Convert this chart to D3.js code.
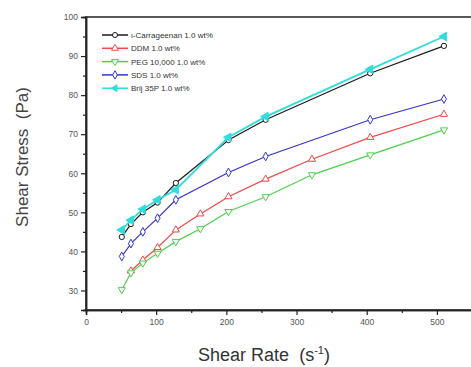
<!DOCTYPE html>
<html>
<head>
<meta charset="utf-8">
<script src="https://cdn.jsdelivr.net/npm/d3@7"></script>
<style>
body { margin: 0; background: #fff; }
svg text { font-family: "Liberation Sans", Arial, sans-serif; }
</style>
</head>
<body>
<script>
var w = 471, h = 367;

// shear rate points (s^-1)
var rateA = [51, 64, 81, 102, 128, 203, 256, 405, 510];
var rateB = [64, 81, 102, 128, 163, 203, 256, 322, 405, 510];
var rateC = [51, 64, 81, 102, 128, 163, 203, 256, 322, 405, 510];

var carrageenan = [43.7, 47, 50, 52.5, 57.5, 68.5, 73.7, 85.6, 92.6];
var ddm = [35, 37.8, 41, 45.5, 49.6, 54, 58.5, 63.6, 69.2, 75.1];
var peg = [30.2, 34.5, 37, 39.5, 42.5, 45.8, 50.2, 54, 59.6, 64.7, 71.1];
var sds = [38.7, 42, 45, 48.5, 53.2, 60.2, 64.3, 73.7, 79];
var brij = [45.5, 48, 50.8, 53.2, 55.8, 69.2, 74.5, 86.6, 95];

var seriesNames = ["\u03b9-Carrageenan 1.0 wt%", "DDM 1.0 wt%", "PEG 10,000 1.0 wt%", "SDS 1.0 wt%", "Brij 35P 1.0 wt%"];
var xTicks = [0, 100, 200, 300, 400, 500];
var yTicks = [30, 40, 50, 60, 70, 80, 90, 100];

var series = [
    {name: seriesNames[0], x: rateA, y: carrageenan, color: "#1a1a1a", symbol: d3.symbolCircle, fill: "none", rot: 0},
    {name: seriesNames[1], x: rateB, y: ddm, color: "#ee4848", symbol: d3.symbolTriangle, fill: "none", rot: 0},
    {name: seriesNames[2], x: rateC, y: peg, color: "#4cd04c", symbol: d3.symbolTriangle, fill: "none", rot: 180},
    {name: seriesNames[3], x: rateA, y: sds, color: "#3434c8", symbol: d3.symbolDiamond, fill: "none", rot: 0},
    {name: seriesNames[4], x: rateA, y: brij, color: "#30dcdc", symbol: d3.symbolTriangle, fill: "#30dcdc", rot: -90}
];

var xScale = d3.scaleLinear().domain([0, 550]).range([86, 472]);
var yScale = d3.scaleLinear().domain([25, 100]).range([310, 17]);

var svg = d3.select('body').append('svg')
    .attr('width', w)
    .attr('height', h);

// frame
svg.append('rect')
    .attr('x', xScale(0))
    .attr('y', yScale(100))
    .attr('width', xScale(550) - xScale(0))
    .attr('height', yScale(25) - yScale(100))
    .attr('fill', 'none')
    .attr('stroke', '#222')
    .attr('stroke-width', 1.5);

// minor ticks
var xAxisMinor = d3.axisBottom(xScale).tickValues(d3.range(50, 550, 100)).tickSize(3).tickFormat('');
var yAxisMinor = d3.axisLeft(yScale).tickValues(d3.range(25, 100, 10)).tickSize(3).tickFormat('');

svg.append('g').attr('transform', 'translate(0,' + yScale(25) + ')').call(xAxisMinor);
svg.append('g').attr('transform', 'translate(' + xScale(0) + ',0)').call(yAxisMinor);

// major ticks
var xAxis = d3.axisBottom(xScale).tickValues(xTicks).tickSize(5).tickPadding(4);
var yAxis = d3.axisLeft(yScale).tickValues(yTicks).tickSize(5).tickPadding(3);

svg.append('g').attr('class', 'axis').attr('transform', 'translate(0,' + yScale(25) + ')').call(xAxis);
svg.append('g').attr('class', 'axis').attr('transform', 'translate(' + xScale(0) + ',0)').call(yAxis);

svg.selectAll('.domain').attr('stroke', '#222').attr('stroke-width', 1.5);
svg.selectAll('.tick line').attr('stroke', '#222').attr('stroke-width', 1.2);
svg.selectAll('.axis text').attr('font-size', 8.5).attr('fill', '#555');

// axis titles
svg.append('text')
    .attr('x', 264)
    .attr('y', 361)
    .attr('text-anchor', 'middle')
    .attr('font-size', 18)
    .attr('fill', '#333')
    .html('Shear Rate&#160;&#160;(s<tspan dy="-7" font-size="11">-1</tspan><tspan dy="7">)</tspan>');

svg.append('text')
    .attr('transform', 'translate(28,157) rotate(-90)')
    .attr('text-anchor', 'middle')
    .attr('font-size', 17)
    .attr('fill', '#444')
    .text('Shear Stress  (Pa)')
    .style('white-space', 'pre');

// lines and markers
var line = d3.line()
    .x(function (d) { return xScale(d[0]); })
    .y(function (d) { return yScale(d[1]); });

series.forEach(function (s) {
    var pts = s.x.map(function (x, i) { return [x, s.y[i]]; });
    svg.append('path')
        .datum(pts)
        .attr('d', line)
        .attr('fill', 'none')
        .attr('stroke', s.color)
        .attr('stroke-width', s.fill === 'none' ? 1.2 : 1.8);

    svg.selectAll(null)
        .data(pts)
        .enter()
        .append('path')
        .attr('d', d3.symbol().type(s.symbol).size(s.fill === 'none' ? 22 : 32))
        .attr('transform', function (d) {
            return 'translate(' + xScale(d[0]) + ',' + yScale(d[1]) + ') rotate(' + s.rot + ')';
        })
        .attr('fill', s.fill === 'none' ? '#fff' : s.fill)
        .attr('stroke', s.color)
        .attr('stroke-width', 1);
});

// legend
var legend = svg.append('g');
series.forEach(function (s, i) {
    var y = 35 + i * 13.3;
    legend.append('line')
        .attr('x1', 102).attr('x2', 128)
        .attr('y1', y).attr('y2', y)
        .attr('stroke', s.color)
        .attr('stroke-width', 1.5);
    legend.append('path')
        .attr('d', d3.symbol().type(s.symbol).size(20))
        .attr('transform', 'translate(115,' + y + ') rotate(' + s.rot + ')')
        .attr('fill', s.fill === 'none' ? '#fff' : s.fill)
        .attr('stroke', s.color)
        .attr('stroke-width', 1);
    legend.append('text')
        .attr('x', 131)
        .attr('y', y + 3)
        .attr('font-size', 8)
        .attr('fill', '#333')
        .text(s.name);
});
</script>
</body>
</html>
